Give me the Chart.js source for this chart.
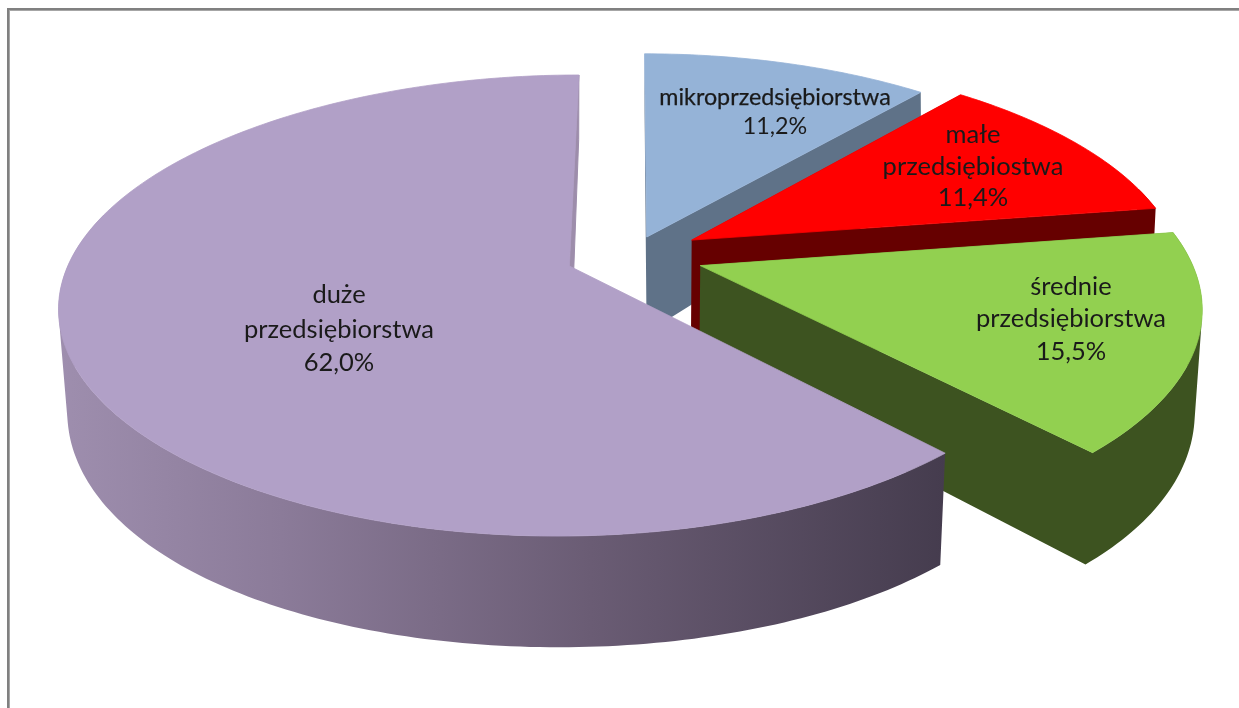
<!DOCTYPE html>
<html lang="pl">
<head>
<meta charset="utf-8">
<style>html,body{margin:0;padding:0;background:#fff}#wrap{position:relative;width:1239px;height:708px;overflow:hidden}canvas{display:block}</style>
<script src="https://cdn.jsdelivr.net/npm/chart.js@4/dist/chart.umd.min.js"></script>
</head>
<body>
<div id="wrap"><canvas id="c" width="1239" height="708"></canvas></div>
<script>
const categories = ['mikroprzedsiębiorstwa', 'małe przedsiębiostwa', 'średnie przedsiębiorstwa', 'duże przedsiębiorstwa'];
const shares = [11.2, 11.4, 15.5, 62.0];
const labelLines = [['mikroprzedsiębiorstwa'], ['małe', 'przedsiębiostwa'], ['średnie', 'przedsiębiorstwa'], ['duże', 'przedsiębiorstwa']];

const topColors = ['#95b3d7', '#ff0000', '#92d050', '#b1a0c7'];
const sideColors = ['#5f7288', '#660000', '#3d5320', '#9a8aa8'];
const explode = [0.088, 0.14, 0.145, 0.135];      // fraction of radius
const labelCentres = [[775, [97, 126]], [973, [135, 167, 198]], [1071, [287, 319, 352]], [339, [295, 330, 363]]];

// perspective projection of the pie plane, top face and bottom face
const TOP = {cx: 632, cy: 255, fx: 493, fy: 220, kx: 0.17, ky: 0.17, q: 0.008, s: 0.007};
const BOT = {cx: 632, cy: 353, fx: 487, fy: 248, kx: 0.16, ky: 0.11, q: 0, s: 0.006};
const project = (p, u, v) => [
  p.cx + p.fx * u * (1 - p.s * u) * (1 - p.q * v * v) / (1 + p.kx * v),
  p.cy - p.fy * v / (1 + p.ky * v)
];

function rim(arc, p) {
  const R = arc.outerRadius, e = (arc.options.offset || 0) / R;
  const a0 = arc.startAngle + Math.PI / 2, a1 = arc.endAngle + Math.PI / 2, m = (a0 + a1) / 2;
  const ou = e * Math.sin(m), ov = e * Math.cos(m);
  const n = Math.max(8, Math.ceil((a1 - a0) * 60)), pts = [], front = [];
  for (let i = 0; i <= n; i++) {
    const a = a0 + (a1 - a0) * i / n;
    const q = project(p, ou + Math.sin(a), ov + Math.cos(a));
    pts.push(q);
    if (Math.cos(a) < 0.25) front.push(q);   // back of the rim is hidden by the top face
  }
  return {pts, front, apex: project(p, ou, ov)};
}
// all sub-polygons get the same winding, so overlaps in one path never cancel out
function wound(pts) {
  let area = 0;
  pts.forEach((q, i) => { const r = pts[(i + 1) % pts.length]; area += q[0] * r[1] - r[0] * q[1]; });
  return area < 0 ? pts.slice().reverse() : pts;
}
function paint(ctx, polys, fill, lw) {
  ctx.beginPath();
  polys.forEach(raw => {
    wound(raw).forEach((q, i) => i ? ctx.lineTo(q[0], q[1]) : ctx.moveTo(q[0], q[1]));
    ctx.closePath();
  });
  ctx.fillStyle = fill; ctx.fill();
  if (lw) { ctx.strokeStyle = fill; ctx.lineWidth = lw; ctx.stroke(); }
}

const pie3d = {
  id: 'pie3d',
  beforeDatasetsDraw(chart) {
    const ctx = chart.ctx, arcs = chart.getDatasetMeta(0).data;
    const bigSide = ctx.createLinearGradient(60, 0, 945, 0);
    bigSide.addColorStop(0, '#9e8eae');
    bigSide.addColorStop(0.25, '#8b7b99');
    bigSide.addColorStop(0.6, '#6a5c74');
    bigSide.addColorStop(1, '#453c4e');
    arcs.forEach((arc, i) => {
      const t = rim(arc, TOP), b = rim(arc, BOT);
      const side = i === 3 ? bigSide : sideColors[i], n = t.pts.length - 1;
      // outer wall: one path of rim quads, so the silhouette joins top and bottom without seams
      const quads = [];
      for (let k = 0; k + 1 < t.front.length; k++) {
        quads.push([t.front[k], t.front[k + 1], b.front[k + 1], b.front[k]]);
      }
      const endFace = [t.apex, t.pts[n], b.pts[n], b.apex];
      // the start face of the big slice looks away from the viewer; its end face has its own colour
      if (i === 3) {
        if (quads.length) paint(ctx, quads, side, 0);
        paint(ctx, [endFace], '#9d8dab', 1);
      } else {
        paint(ctx, quads.concat([[t.apex, t.pts[0], b.pts[0], b.apex], endFace]), side, 0);
      }
      // top face
      paint(ctx, [[t.apex].concat(t.pts)], topColors[i], 0.8);
    });
    // data labels
    ctx.textAlign = 'center'; ctx.textBaseline = 'middle'; ctx.fillStyle = '#1a1a1a'; ctx.strokeStyle = '#1a1a1a';
    arcs.forEach((arc, i) => {
      const [x, ys] = labelCentres[i];
      const lines = labelLines[i].concat(shares[i].toFixed(1).replace('.', ',') + '%');
      ctx.font = (i === 0 ? '23.3px' : '25.5px') + ' Lato';
      lines.forEach((s, j) => {
        ctx.fillText(s, x, ys[j]);
        if (i === 0 && j === 0) { ctx.lineWidth = 0.25; ctx.strokeText(s, x, ys[j]); }
      });
    });
    return false;
  }
};
const frame = {
  id: 'frame',
  beforeDraw(chart) {
    const ctx = chart.ctx;
    ctx.fillStyle = '#fff'; ctx.fillRect(0, 0, 1239, 708);
    ctx.fillStyle = '#a6a6a6'; ctx.fillRect(7, 8, 1232, 3); ctx.fillRect(7, 8, 3, 700);
    ctx.fillStyle = '#808080'; ctx.fillRect(7, 8, 1232, 2); ctx.fillRect(7, 8, 2, 700);
  }
};

new Chart(document.getElementById('c'), {
  type: 'pie',
  data: {
    labels: categories,
    datasets: [{data: shares, backgroundColor: topColors, borderWidth: 0, offset: explode.map(e => e * 331)}]
  },
  options: {
    responsive: false,
    animation: false,
    rotation: 0,
    plugins: {legend: {display: false}, tooltip: {enabled: false}}
  },
  plugins: [frame, pie3d]
});
</script>
</body>
</html>
